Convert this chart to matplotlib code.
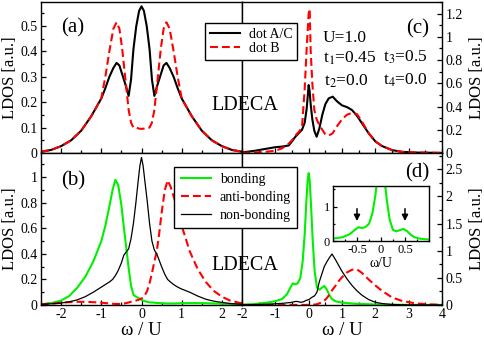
import matplotlib
matplotlib.use('Agg')
import matplotlib.pyplot as plt
from matplotlib.ticker import MultipleLocator, FixedLocator, FuncFormatter
from matplotlib.lines import Line2D

plt.rcParams['font.family'] = ['Liberation Serif', 'DejaVu Serif']
plt.rcParams['mathtext.fontset'] = 'stix'
plt.rcParams['axes.unicode_minus'] = False

# panel (a): dot LDOS, t2 = 0
a_w = [-2.5, -2.25, -2.0, -1.75, -1.5, -1.25, -1.0, -0.9, -0.8, -0.7, -0.62, -0.55, -0.48,
       -0.4, -0.32, -0.26, -0.2, -0.13, -0.06, 0.0, 0.06, 0.13, 0.2, 0.26, 0.32, 0.4, 0.48,
       0.55, 0.62, 0.7, 0.8, 0.9, 1.0, 1.25, 1.5, 1.75, 2.0, 2.25, 2.5]
a_dot_ac = [0.005, 0.012, 0.027, 0.05, 0.088, 0.145, 0.215, 0.255, 0.30, 0.335, 0.355, 0.345, 0.31,
            0.27, 0.225, 0.29, 0.41, 0.50, 0.56, 0.578, 0.56, 0.50, 0.41, 0.29, 0.225, 0.27, 0.31,
            0.345, 0.355, 0.335, 0.30, 0.255, 0.215, 0.145, 0.088, 0.05, 0.027, 0.012, 0.005]
a_dot_b = [0.005, 0.012, 0.027, 0.05, 0.088, 0.145, 0.215, 0.30, 0.40, 0.49, 0.515, 0.49, 0.41,
           0.29, 0.17, 0.12, 0.10, 0.10, 0.096, 0.095, 0.096, 0.10, 0.10, 0.12, 0.17, 0.29, 0.41,
           0.49, 0.515, 0.49, 0.40, 0.30, 0.215, 0.145, 0.088, 0.05, 0.027, 0.012, 0.005]

# panel (c): dot LDOS, t3 = 0.5
c_w = [-2.0, -1.6, -1.3, -1.0, -0.8, -0.6, -0.5, -0.4, -0.3, -0.2, -0.12, -0.06, 0.0, 0.03,
       0.06, 0.11, 0.17, 0.24, 0.32, 0.41, 0.5, 0.6, 0.72, 0.85, 1.0, 1.15, 1.3, 1.45, 1.6,
       1.8, 2.0, 2.2, 2.5, 2.8, 3.2, 4.0]
c_dot_ac = [0.005, 0.02, 0.035, 0.05, 0.055, 0.065, 0.10, 0.14, 0.17, 0.20, 0.26, 0.38, 0.585, 0.53,
            0.42, 0.29, 0.19, 0.14, 0.21, 0.33, 0.42, 0.47, 0.485, 0.445, 0.41, 0.395, 0.37, 0.32, 0.255,
            0.17, 0.10, 0.06, 0.025, 0.01, 0.004, 0.001]
c_dot_b = [0.002, 0.005, 0.01, 0.02, 0.04, 0.08, 0.11, 0.15, 0.18, 0.22, 0.55, 0.90, 1.20, 1.24,
           0.88, 0.60, 0.37, 0.29, 0.24, 0.20, 0.16, 0.15, 0.17, 0.23, 0.29, 0.33, 0.345, 0.335, 0.27,
           0.17, 0.10, 0.06, 0.025, 0.01, 0.004, 0.001]

# panel (b): molecular orbitals, t2 = 0
b_w = [-2.5, -2.2, -2.0, -1.8, -1.6, -1.4, -1.2, -1.0, -0.9, -0.8, -0.72, -0.65, -0.58, -0.5,
       -0.44, -0.38, -0.32, -0.26, -0.2, -0.14, -0.08, -0.04, 0.0, 0.04, 0.08, 0.14, 0.2, 0.26,
       0.32, 0.38, 0.44, 0.5, 0.58, 0.65, 0.72, 0.8, 0.9, 1.0, 1.2, 1.4, 1.6, 1.8, 2.0, 2.2, 2.5]
b_bond = [0.005, 0.018, 0.035, 0.07, 0.135, 0.22, 0.34, 0.50, 0.62, 0.77, 0.90, 0.98, 0.94, 0.78,
          0.61, 0.45, 0.29, 0.15, 0.08, 0.065, 0.055, 0.05, 0.04, 0.035, 0.03, 0.025, 0.02, 0.02,
          0.018, 0.016, 0.015, 0.014, 0.013, 0.012, 0.012, 0.012, 0.013, 0.014, 0.015, 0.015, 0.014,
          0.012, 0.01, 0.008, 0.005]
b_anti = [0.005, 0.012, 0.018, 0.022, 0.025, 0.025, 0.022, 0.018, 0.015, 0.012, 0.01, 0.008, 0.008,
          0.01, 0.012, 0.015, 0.02, 0.025, 0.03, 0.035, 0.04, 0.045, 0.05, 0.06, 0.075, 0.11, 0.17,
          0.25, 0.34, 0.42, 0.56, 0.72, 0.90, 0.975, 0.93, 0.85, 0.74, 0.62, 0.42, 0.28, 0.18, 0.11,
          0.065, 0.035, 0.012]
b_non = [0.005, 0.01, 0.015, 0.025, 0.04, 0.065, 0.10, 0.14, 0.16, 0.18, 0.20, 0.23, 0.27, 0.33,
         0.39, 0.415, 0.44, 0.52, 0.64, 0.80, 0.98, 1.09, 1.155, 1.09, 0.98, 0.82, 0.64, 0.50, 0.43,
         0.40, 0.35, 0.30, 0.24, 0.20, 0.18, 0.16, 0.14, 0.125, 0.10, 0.07, 0.045, 0.03, 0.02,
         0.012, 0.005]

# panel (d): molecular orbitals, t3 = 0.5
d_w = [-2.0, -1.6, -1.3, -1.0, -0.8, -0.65, -0.55, -0.47, -0.4, -0.33, -0.25, -0.18, -0.12, -0.07,
       -0.03, 0.0, 0.03, 0.07, 0.12, 0.18, 0.25, 0.32, 0.4, 0.47, 0.55, 0.62, 0.7, 0.8, 0.9, 1.0,
       1.15, 1.3, 1.45, 1.6, 1.8, 2.0, 2.2, 2.5, 2.8, 3.2, 3.6, 4.0]
d_bond = [0.005, 0.02, 0.04, 0.07, 0.11, 0.20, 0.32, 0.40, 0.38, 0.40, 0.50, 0.80, 1.30, 1.90,
          2.30, 2.43, 2.30, 1.85, 1.20, 0.62, 0.32, 0.28, 0.32, 0.35, 0.28, 0.18, 0.11, 0.07, 0.055,
          0.045, 0.035, 0.028, 0.022, 0.018, 0.014, 0.01, 0.008, 0.005, 0.004, 0.003, 0.002, 0.002]
d_anti = [0.002, 0.002, 0.002, 0.002, 0.002, 0.002, 0.002, 0.002, 0.002, 0.002, 0.002, 0.002,
          0.002, 0.002, 0.002, 0.003, 0.003, 0.004, 0.005, 0.008, 0.015, 0.03, 0.05, 0.08, 0.13,
          0.19, 0.27, 0.35, 0.44, 0.51, 0.60, 0.65, 0.655, 0.59, 0.47, 0.36, 0.26, 0.14, 0.075,
          0.03, 0.012, 0.004]
d_non = [0.003, 0.008, 0.014, 0.022, 0.03, 0.04, 0.045, 0.055, 0.065, 0.065, 0.05, 0.055, 0.07,
         0.085, 0.095, 0.10, 0.11, 0.13, 0.15, 0.17, 0.24, 0.43, 0.58, 0.71, 0.80, 0.87, 0.94,
         0.84, 0.73, 0.62, 0.48, 0.36, 0.26, 0.18, 0.10, 0.05, 0.027, 0.01, 0.004, 0.002, 0.001,
         0.001]

RED = '#ff0000'
GREEN = '#00f000'
DASH = (3.8, 1.9)

W, H = 485, 338
fig = plt.figure(figsize=(W / 100, H / 100), dpi=100)


def px(x, y):
    return x / W, 1 - y / H


def box(x0, y0, x1, y1):
    return [x0 / W, 1 - y1 / H, (x1 - x0) / W, (y1 - y0) / H]


def fmt(v, pos):
    return '%g' % v


def style(ax, xlim, ylim, ymaj, ymin, side, xlabels):
    ax.set_xlim(xlim)
    ax.set_ylim(ylim)
    ax.xaxis.set_major_locator(MultipleLocator(1))
    ax.xaxis.set_minor_locator(MultipleLocator(0.5))
    ax.yaxis.set_major_locator(MultipleLocator(ymaj))
    ax.yaxis.set_minor_locator(MultipleLocator(ymin))
    ax.xaxis.set_major_formatter(FuncFormatter(fmt))
    ax.yaxis.set_major_formatter(FuncFormatter(fmt))
    left = side == 'left'
    ax.tick_params(which='both', direction='in', top=False, bottom=True,
                   left=left, right=not left, labelleft=left, labelright=not left,
                   labelbottom=xlabels, labelsize=10, pad=2.5)
    ax.tick_params(which='major', length=3.6, width=0.9)
    ax.tick_params(which='minor', length=1.9, width=0.9)
    for s in ax.spines.values():
        s.set_linewidth(1.0)
    if left:
        ax.set_ylabel('LDOS [a.u.]', fontsize=12)
        ax.yaxis.set_label_coords(-0.115, 0.5)
    else:
        ax.yaxis.set_label_position('right')
        ax.set_ylabel('LDOS [a.u.]', fontsize=12)
        ax.yaxis.set_label_coords(1.135, 0.5)
    if xlabels:
        ax.set_xlabel('ω / U', fontsize=13.5)
        ax.xaxis.set_label_coords(0.5, -0.11)


ax_a = fig.add_axes(box(41, 2, 242, 153))
ax_c = fig.add_axes(box(242, 2, 442, 153))
ax_b = fig.add_axes(box(41, 153, 242, 305))
ax_d = fig.add_axes(box(242, 153, 442, 305))

style(ax_a, (-2.5, 2.5), (0, 0.595), 0.1, 0.05, 'left', False)
style(ax_c, (-2, 4), (0, 1.3), 0.2, 0.1, 'right', False)
style(ax_b, (-2.5, 2.5), (0, 1.19), 0.2, 0.1, 'left', True)
style(ax_d, (-2, 4), (0, 2.8), 0.5, 0.25, 'right', True)

ax_a.plot(a_w, a_dot_ac, color='k', lw=1.5)
ax_a.plot(a_w, a_dot_b, color=RED, lw=1.5, dashes=DASH)
ax_c.plot(c_w, c_dot_ac, color='k', lw=1.5)
ax_c.plot(c_w, c_dot_b, color=RED, lw=1.5, dashes=DASH)

ax_b.plot(b_w, b_bond, color=GREEN, lw=1.5)
ax_b.plot(b_w, b_anti, color=RED, lw=1.5, dashes=DASH)
ax_b.plot(b_w, b_non, color='k', lw=0.9)
ax_d.plot(d_w, d_bond, color=GREEN, lw=1.5)
ax_d.plot(d_w, d_anti, color=RED, lw=1.5, dashes=DASH)
ax_d.plot(d_w, d_non, color='k', lw=0.9)

# legends cross the middle line, so put them on the figure
h_top = [Line2D([], [], color='k', lw=1.5), Line2D([], [], color=RED, lw=1.5, dashes=DASH)]
leg = fig.legend(h_top, ['dot A/C', 'dot B'], loc='upper right', bbox_to_anchor=px(297, 23),
                 fontsize=10, frameon=True, fancybox=False, edgecolor='k', framealpha=1,
                 borderaxespad=0, handlelength=2.2, handletextpad=0.6, labelspacing=0.1,
                 borderpad=0.35)
leg.get_frame().set_linewidth(1.0)

h_bot = [Line2D([], [], color=GREEN, lw=1.5), Line2D([], [], color=RED, lw=1.5, dashes=DASH),
         Line2D([], [], color='k', lw=0.9)]
leg = fig.legend(h_bot, ['bonding', 'anti-bonding', 'non-bonding'], loc='upper right',
                 bbox_to_anchor=px(297, 167), fontsize=10, frameon=True, fancybox=False,
                 edgecolor='k', framealpha=1, borderaxespad=0, handlelength=2.2,
                 handletextpad=0.6, labelspacing=0.35, borderpad=0.45)
leg.get_frame().set_linewidth(1.0)

fig.text(*px(73, 32.5), '(a)', fontsize=15, ha='center', va='baseline')
fig.text(*px(73, 185.5), '(b)', fontsize=15, ha='center', va='baseline')
fig.text(*px(418, 33), '(c)', fontsize=15, ha='center', va='baseline')
fig.text(*px(417, 177), '(d)', fontsize=15, ha='center', va='baseline')
fig.text(*px(245, 110), 'LDECA', fontsize=14.5, ha='center', va='baseline')
fig.text(*px(245, 270), 'LDECA', fontsize=14.5, ha='center', va='baseline')

fig.text(*px(323, 41.7), 'U=1.0', fontsize=12.5, va='baseline')
fig.text(*px(323, 62.7), 't$_1$=0.45', fontsize=12.5, va='baseline')
fig.text(*px(324, 86), 't$_2$=0.0', fontsize=12.5, va='baseline')
fig.text(*px(383, 61.7), 't$_3$=0.5', fontsize=12.5, va='baseline')
fig.text(*px(383, 85), 't$_4$=0.0', fontsize=12.5, va='baseline')

# inset: zoom on the bonding orbital of panel (d)
ax_in = fig.add_axes(box(333, 186, 429, 241))
ax_in.plot(d_w, d_bond, color=GREEN, lw=1.5)
ax_in.set_xlim(-1, 1)
ax_in.set_ylim(0, 1.6)
ax_in.xaxis.set_major_locator(FixedLocator([-0.5, 0, 0.5]))
ax_in.xaxis.set_minor_locator(FixedLocator([-0.75, -0.25, 0.25, 0.75]))
ax_in.yaxis.set_major_locator(FixedLocator([0, 1]))
ax_in.yaxis.set_minor_locator(FixedLocator([0.5, 1.5]))
ax_in.xaxis.set_major_formatter(FuncFormatter(fmt))
ax_in.yaxis.set_major_formatter(FuncFormatter(fmt))
ax_in.tick_params(which='both', direction='in', labelsize=9, pad=2)
ax_in.tick_params(which='major', length=3, width=0.9)
ax_in.tick_params(which='minor', length=1.6, width=0.9)
for s in ax_in.spines.values():
    s.set_linewidth(1.0)
ax_in.set_xlabel('ω/U', fontsize=10, labelpad=1)
for xa in (-0.5, 0.5):
    ax_in.annotate('', xy=(xa, 0.5), xytext=(xa, 1.02),
                   arrowprops=dict(arrowstyle='-|>', color='k', lw=1.1, mutation_scale=9))

fig.savefig('out.png', dpi=100)
